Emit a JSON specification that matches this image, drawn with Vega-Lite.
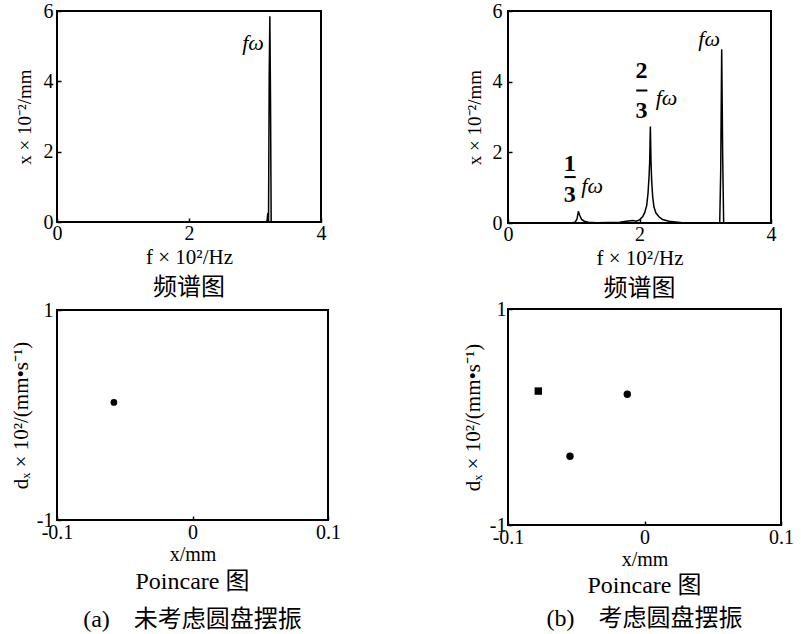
{
  "$schema": "https://vega.github.io/schema/vega-lite/v6.json",
  "background": "white",
  "padding": {"left": 9, "top": 0, "right": 0, "bottom": 0},
  "config": {
    "font": "Times New Roman, Liberation Serif, serif",
    "view": {"stroke": "black", "strokeWidth": 2},
    "axis": {
      "grid": false, "domain": false, "ticks": true, "tickSize": -4, "tickColor": "black", "tickWidth": 1.5,
      "labelFont": "Times New Roman, Liberation Serif, serif", "labelFontSize": 20, "labelColor": "black",
      "titleFont": "Times New Roman, Liberation Serif, serif", "titleFontSize": 20, "titleFontWeight": "normal", "titleColor": "black",
      "labelFlush": false, "labelOverlap": false,
      "labelExpr": "replace(datum.label, '\u2212', '-')"
    },
    "title": {"orient": "bottom", "anchor": "middle", "font": "Times New Roman, Liberation Serif, Noto Sans CJK SC, serif", "fontSize": 24, "fontWeight": "normal", "color": "black", "baseline": "top"}
  },
  "datasets": {
    "specA": [
      {"f": 0, "v": 0}, {"f": 3.18, "v": 0}, {"f": 3.195, "v": 0.25}, {"f": 3.205, "v": 0.02},
      {"f": 3.215, "v": 4.1}, {"f": 3.225, "v": 5.85}, {"f": 3.235, "v": 3.5}, {"f": 3.245, "v": 0}, {"f": 4, "v": 0}
    ],
    "specB": [
      {"f": 0, "v": 0}, {"f": 0.95, "v": 0}, {"f": 1.02, "v": 0.02}, {"f": 1.05, "v": 0.12}, {"f": 1.07, "v": 0.33},
      {"f": 1.09, "v": 0.22}, {"f": 1.12, "v": 0.1}, {"f": 1.16, "v": 0.05}, {"f": 1.22, "v": 0.02}, {"f": 1.35, "v": 0.01},
      {"f": 1.7, "v": 0.02}, {"f": 1.8, "v": 0.05}, {"f": 1.9, "v": 0.07}, {"f": 1.95, "v": 0.05}, {"f": 2.0, "v": 0.09},
      {"f": 2.05, "v": 0.18}, {"f": 2.08, "v": 0.3}, {"f": 2.11, "v": 0.5}, {"f": 2.13, "v": 0.85}, {"f": 2.145, "v": 1.3},
      {"f": 2.155, "v": 1.75}, {"f": 2.165, "v": 2.73}, {"f": 2.175, "v": 1.75}, {"f": 2.185, "v": 1.2}, {"f": 2.2, "v": 0.75},
      {"f": 2.22, "v": 0.45}, {"f": 2.25, "v": 0.28}, {"f": 2.3, "v": 0.17}, {"f": 2.35, "v": 0.1}, {"f": 2.45, "v": 0.05},
      {"f": 2.55, "v": 0.03}, {"f": 2.65, "v": 0.01}, {"f": 2.8, "v": 0}, {"f": 3.22, "v": 0}, {"f": 3.235, "v": 1.45},
      {"f": 3.25, "v": 4.92}, {"f": 3.265, "v": 1.9}, {"f": 3.28, "v": 0}, {"f": 4, "v": 0}
    ],
    "fwA": [{"f": 2.97, "v": 5.09, "label": "fω"}],
    "fwB": [
      {"f": 1.28, "v": 1.05, "label": "fω"},
      {"f": 2.41, "v": 3.55, "label": "fω"},
      {"f": 3.06, "v": 5.2, "label": "fω"}
    ],
    "digB": [
      {"f": 0.94, "v": 1.68, "label": "1"},
      {"f": 0.94, "v": 0.8, "label": "3"},
      {"f": 2.03, "v": 4.3, "label": "2"},
      {"f": 2.03, "v": 3.16, "label": "3"}
    ],
    "barB": [
      {"f1": 0.86, "f2": 1.03, "v": 1.3},
      {"f1": 1.95, "f2": 2.12, "v": 3.75}
    ],
    "poiA": [{"x": -0.058, "y": 0.12, "marker": "circle"}],
    "poiB": [
      {"x": -0.0778, "y": 0.24, "marker": "square"},
      {"x": -0.0546, "y": -0.364, "marker": "circle"},
      {"x": -0.0126, "y": 0.21, "marker": "circle"}
    ]
  },
  "spacing": 119,
  "hconcat": [
    {
      "spacing": -2,
      "vconcat": [
        {
          "width": 264, "height": 211,
          "title": {"text": "频谱图", "offset": 9},
          "layer": [
            {
              "data": {"name": "specA"},
              "mark": {"type": "line", "color": "black", "strokeWidth": 1.5},
              "encoding": {
                "x": {"field": "f", "type": "quantitative", "scale": {"domain": [0, 4], "nice": false},
                      "axis": {"values": [0, 2, 4], "format": "d", "title": "f × 10²/Hz", "titleFontSize": 21, "labelPadding": 5, "titlePadding": 3}},
                "y": {"field": "v", "type": "quantitative", "scale": {"domain": [0, 6], "nice": false},
                      "axis": {"values": [0, 2, 4, 6], "format": "d", "title": "x × 10⁻²/mm", "titleFontSize": 19, "labelPadding": 8, "titlePadding": 9}}
              }
            },
            {
              "data": {"name": "fwA"},
              "mark": {"type": "text", "font": "Times New Roman, Liberation Serif, serif", "fontStyle": "italic", "fontSize": 22, "color": "black"},
              "encoding": {
                "x": {"field": "f", "type": "quantitative"},
                "y": {"field": "v", "type": "quantitative"},
                "text": {"field": "label"}
              }
            }
          ]
        },
        {
          "width": 271, "height": 210,
          "title": {"text": ["Poincare 图", "(a)\u2003未考虑圆盘摆振"], "offset": 6, "lineHeight": 38},
          "data": {"name": "poiA"},
          "mark": {"type": "point", "filled": true, "color": "black", "opacity": 1, "size": 45},
          "encoding": {
            "x": {"field": "x", "type": "quantitative", "scale": {"domain": [-0.1, 0.1], "nice": false},
                  "axis": {"values": [-0.1, 0, 0.1], "format": ".1~f", "title": "x/mm", "labelPadding": 6, "titlePadding": 2}},
            "y": {"field": "y", "type": "quantitative", "scale": {"domain": [-1, 1], "nice": false},
                  "axis": {"values": [-1, 0, 1], "format": "d", "title": "dₓ × 10²/(mm•s⁻¹)", "titleFontSize": 21, "labelPadding": 8, "titlePadding": 5}},
            "shape": {"field": "marker", "type": "nominal", "scale": {"domain": ["circle", "square"], "range": ["circle", "square"]}, "legend": null}
          }
        }
      ]
    },
    {
      "spacing": -4,
      "vconcat": [
        {
          "width": 263, "height": 212,
          "title": {"text": "频谱图", "offset": 9},
          "layer": [
            {
              "data": {"name": "specB"},
              "mark": {"type": "line", "color": "black", "strokeWidth": 1.5},
              "encoding": {
                "x": {"field": "f", "type": "quantitative", "scale": {"domain": [0, 4], "nice": false},
                      "axis": {"values": [0, 2, 4], "format": "d", "title": "f × 10²/Hz", "titleFontSize": 21, "labelPadding": 5, "titlePadding": 3}},
                "y": {"field": "v", "type": "quantitative", "scale": {"domain": [0, 6], "nice": false},
                      "axis": {"values": [0, 2, 4, 6], "format": "d", "title": "x × 10⁻²/mm", "titleFontSize": 19, "labelPadding": 10, "titlePadding": 8}}
              }
            },
            {
              "data": {"name": "barB"},
              "mark": {"type": "rule", "color": "black", "strokeWidth": 2},
              "encoding": {
                "x": {"field": "f1", "type": "quantitative"},
                "x2": {"field": "f2"},
                "y": {"field": "v", "type": "quantitative"}
              }
            },
            {
              "data": {"name": "digB"},
              "mark": {"type": "text", "font": "Times New Roman, Liberation Serif, serif", "fontWeight": "bold", "fontSize": 24, "color": "black"},
              "encoding": {
                "x": {"field": "f", "type": "quantitative"},
                "y": {"field": "v", "type": "quantitative"},
                "text": {"field": "label"}
              }
            },
            {
              "data": {"name": "fwB"},
              "mark": {"type": "text", "font": "Times New Roman, Liberation Serif, serif", "fontStyle": "italic", "fontSize": 22, "color": "black"},
              "encoding": {
                "x": {"field": "f", "type": "quantitative"},
                "y": {"field": "v", "type": "quantitative"},
                "text": {"field": "label"}
              }
            }
          ]
        },
        {
          "width": 273, "height": 216,
          "title": {"text": ["Poincare 图", "(b)\u2003考虑圆盘摆振"], "offset": 5, "lineHeight": 33},
          "data": {"name": "poiB"},
          "mark": {"type": "point", "filled": true, "color": "black", "opacity": 1, "size": 55},
          "encoding": {
            "x": {"field": "x", "type": "quantitative", "scale": {"domain": [-0.1, 0.1], "nice": false},
                  "axis": {"values": [-0.1, 0, 0.1], "format": ".1~f", "title": "x/mm", "labelPadding": 6, "titlePadding": 2}},
            "y": {"field": "y", "type": "quantitative", "scale": {"domain": [-1, 1], "nice": false},
                  "axis": {"values": [-1, 0, 1], "format": "d", "title": "dₓ × 10²/(mm•s⁻¹)", "titleFontSize": 21, "labelPadding": 6, "titlePadding": 6}},
            "shape": {"field": "marker", "type": "nominal", "scale": {"domain": ["circle", "square"], "range": ["circle", "square"]}, "legend": null}
          }
        }
      ]
    }
  ]
}
